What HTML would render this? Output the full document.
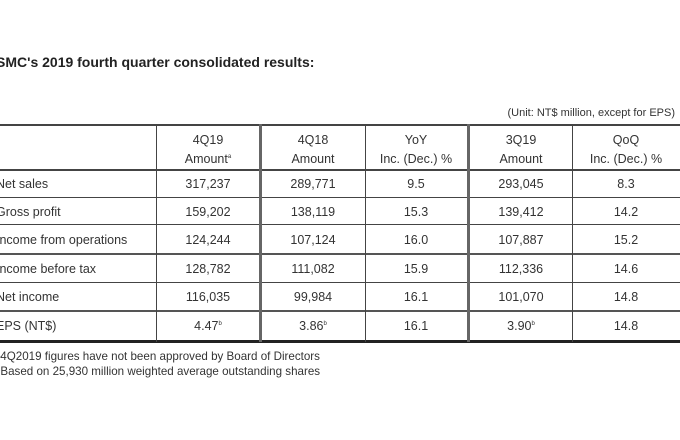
<!DOCTYPE html>
<html><head><style>
body{margin:0;width:680px;height:440px;background:#fff;position:relative;overflow:hidden;font-family:"Liberation Sans",Arial,sans-serif;color:#333;}
.t{position:absolute;font-size:12.5px;white-space:nowrap;line-height:14px}
.h{position:absolute;background:#444;}
.c{text-align:center;}
sup{font-size:6px;line-height:0;vertical-align:5px}
</style></head><body>
<div class="t" style="left:-4px;top:55px;font-weight:bold;font-size:14px;color:#222">SMC's 2019 fourth quarter consolidated results:</div>
<div class="t" style="right:5px;top:106px;font-size:11px">(Unit: NT$ million, except for EPS)</div>

<div class="h" style="left:0;top:124px;width:680px;height:2px"></div>
<div class="h" style="left:0;top:169px;width:680px;height:2px"></div>
<div class="h" style="left:0;top:197px;width:680px;height:1px"></div>
<div class="h" style="left:0;top:224px;width:680px;height:1px"></div>
<div class="h" style="left:0;top:253px;width:680px;height:2px;background:#555"></div>
<div class="h" style="left:0;top:282px;width:680px;height:1px"></div>
<div class="h" style="left:0;top:310px;width:680px;height:2px;background:#555"></div>
<div class="h" style="left:0;top:340px;width:680px;height:3px;background:#222"></div>

<div class="h" style="left:156px;top:124px;width:1px;height:218px"></div>
<div class="h" style="left:259px;top:124px;width:3px;height:218px;background:#666"></div>
<div class="h" style="left:365px;top:124px;width:1px;height:218px"></div>
<div class="h" style="left:467px;top:124px;width:3px;height:218px;background:#666"></div>
<div class="h" style="left:572px;top:124px;width:1px;height:218px"></div>

<div id="cols"></div>
<script>
var cx=[208,313,416,521,626];
var hdr=[["4Q19","Amount<sup>a</sup>"],["4Q18","Amount"],["YoY","Inc. (Dec.) %"],["3Q19","Amount"],["QoQ","Inc. (Dec.) %"]];
var rows=[["Net sales","317,237","289,771","9.5","293,045","8.3"],
["Gross profit","159,202","138,119","15.3","139,412","14.2"],
["Income from operations","124,244","107,124","16.0","107,887","15.2"],
["Income before tax","128,782","111,082","15.9","112,336","14.6"],
["Net income","116,035","99,984","16.1","101,070","14.8"],
["EPS (NT$)","4.47<sup>b</sup>","3.86<sup>b</sup>","16.1","3.90<sup>b</sup>","14.8"]];
var ry=[177,205,233,262,290,319];
var h="";
for(var i=0;i<5;i++){h+='<div class="t c" style="left:'+(cx[i]-60)+'px;width:120px;top:133px">'+hdr[i][0]+'</div>';
h+='<div class="t c" style="left:'+(cx[i]-60)+'px;width:120px;top:152px">'+hdr[i][1]+'</div>';}
for(var r=0;r<6;r++){h+='<div class="t" style="left:-4px;top:'+ry[r]+'px">'+rows[r][0]+'</div>';
for(var i=0;i<5;i++)h+='<div class="t c" style="left:'+(cx[i]-60)+'px;width:120px;top:'+ry[r]+'px">'+rows[r][i+1]+'</div>';}
document.getElementById("cols").innerHTML=h;
</script>
<div class="t" style="left:-4px;top:350px;font-size:11.6px">ª4Q2019 figures have not been approved by Board of Directors</div>
<div class="t" style="left:-4px;top:365px;font-size:11.6px">ᵇBased on 25,930 million weighted average outstanding shares</div>
</body></html>
